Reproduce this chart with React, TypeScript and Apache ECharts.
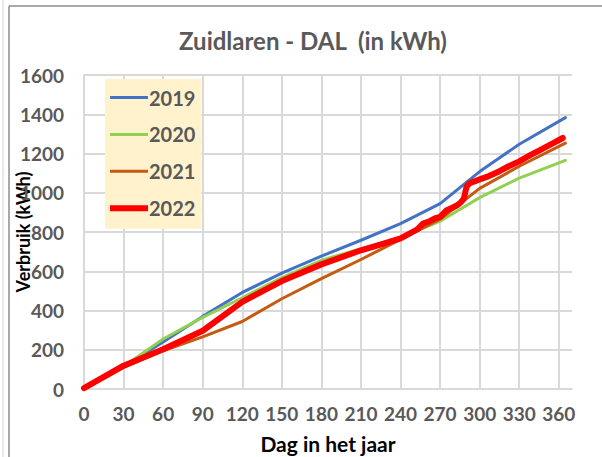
import React, { useEffect, useRef } from "react";
import * as echarts from "echarts";

const titleText = "Zuidlaren - DAL  (in kWh)";
const xAxisName = "Dag in het jaar";
const yAxisName = "Verbruik (kWh)";

const data2019: [number, number][] = [
  [0, 0], [30, 115], [60, 240], [90, 370], [120, 492], [150, 590], [180, 677],
  [210, 758], [240, 843], [270, 945], [300, 1108], [330, 1247], [365, 1383],
];
const data2020: [number, number][] = [
  [0, 0], [30, 115], [60, 255], [90, 365], [120, 465], [150, 568], [180, 656],
  [210, 715], [240, 770], [270, 855], [300, 975], [330, 1075], [365, 1165],
];
const data2021: [number, number][] = [
  [0, 0], [30, 110], [60, 195], [90, 266], [120, 344], [150, 460], [180, 562],
  [210, 660], [240, 762], [270, 865], [300, 1022], [330, 1135], [365, 1253],
];
const data2022: [number, number][] = [
  [0, 5], [30, 119], [60, 203], [90, 297], [120, 444], [150, 550], [180, 635],
  [210, 707], [224, 735], [240, 767], [245, 785], [249, 800], [253, 815],
  [257, 843], [262, 855], [266, 869], [270, 877], [275, 911], [278, 920],
  [283, 936], [286, 953], [288, 970], [290, 1030], [292, 1047], [300, 1068],
  [307, 1085], [315, 1110], [322, 1135], [330, 1160], [338, 1190], [345, 1215],
  [355, 1250], [363, 1279],
];

const seriesNames = ["2019", "2020", "2021", "2022"];
const seriesColors = ["#4472c4", "#92d050", "#c55a11", "#ff0000"];
const seriesWidths = [3, 3, 3, 6];
const seriesData = [data2019, data2020, data2021, data2022];

const FONT = "Lato";

// legend icon: a horizontal bar of given thickness, padded with tiny dots to keep a 38x14 box
const legendIcon = (t: number) => {
  const y0 = 7 - t / 2;
  const y1 = 7 + t / 2;
  return `path://M0,0H0.01V0.01H0Z M0,${y0}H38V${y1}H0Z M37.99,13.99H38V14H37.99Z`;
};

export default function App() {
  const ref = useRef<HTMLDivElement>(null);
  useEffect(() => {
    if (!ref.current) return;
    const chart = echarts.init(ref.current, null, { renderer: "svg" });
    const gridColors = [...Array(13).fill("#d9d9d9"), "transparent"];
    chart.setOption({
      animation: false,
      backgroundColor: "#ffffff",
      title: {
        text: titleText,
        left: 308,
        top: 23,
        textAlign: "center",
        textStyle: { color: "#595959", fontFamily: FONT, fontSize: 24, fontWeight: "bold" },
      },
      legend: {
        orient: "vertical",
        left: 105,
        top: 79,
        backgroundColor: "#fff2cc",
        padding: [8.5, 6, 10.5, 5],
        itemWidth: 38,
        itemHeight: 14,
        itemGap: 16.9,
        data: seriesNames.map((n, i) => ({ name: n, icon: legendIcon(seriesWidths[i]) })),
        textStyle: {
          color: "#595959",
          fontFamily: FONT,
          fontSize: 20,
          fontWeight: "bold",
          padding: [0, 0, 0, -4],
        },
      },
      grid: { left: 84, top: 75, right: 30, bottom: 68, containLabel: false, outerBoundsMode: "none" },
      xAxis: {
        type: "value",
        min: 0,
        max: 370,
        interval: 30,
        name: xAxisName,
        nameLocation: "middle",
        nameGap: 44,
        nameMoveOverlap: false,
        nameTextStyle: { color: "#000000", fontFamily: FONT, fontSize: 21, fontWeight: "bold" },
        axisLine: { show: true, lineStyle: { color: "#d9d9d9", width: 2 } },
        axisTick: { show: false },
        axisLabel: {
          color: "#595959",
          fontFamily: FONT,
          fontSize: 19,
          fontWeight: "bold",
          margin: 15,
          formatter: (v: number) => (v % 30 === 0 ? String(v) : ""),
        },
        splitLine: { show: true, lineStyle: { color: gridColors, width: 2 } },
      },
      yAxis: {
        type: "value",
        min: 0,
        max: 1600,
        interval: 200,
        name: yAxisName,
        nameLocation: "middle",
        nameGap: 52,
        nameMoveOverlap: false,
        nameTextStyle: { color: "#000000", fontFamily: FONT, fontSize: 18, fontWeight: "bold" },
        axisLine: { show: true, lineStyle: { color: "#d9d9d9", width: 2 } },
        axisTick: { show: false },
        axisLabel: {
          color: "#595959",
          fontFamily: FONT,
          fontSize: 19,
          fontWeight: "bold",
          margin: 20,
          formatter: (v: number) => String(v),
        },
        splitLine: { show: true, lineStyle: { color: "#d9d9d9", width: 2 } },
      },
      graphic: [
        { type: "line", shape: { x1: 3, y1: 0, x2: 3, y2: 457 }, style: { stroke: "#d0d0d0", lineWidth: 1 } },
        { type: "line", shape: { x1: 9, y1: 6, x2: 9, y2: 457 }, style: { stroke: "#8c8c8c", lineWidth: 1.5 } },
        { type: "line", shape: { x1: 9, y1: 6, x2: 602, y2: 6 }, style: { stroke: "#8c8c8c", lineWidth: 1.5 } },
      ],
      series: seriesNames.map((name, i) => ({
        name,
        type: "line",
        data: seriesData[i],
        showSymbol: false,
        symbol: "none",
        z: 2 + i,
        lineStyle: { color: seriesColors[i], width: seriesWidths[i], cap: "round", join: "round" },
        itemStyle: { color: seriesColors[i] },
      })),
    });
    return () => chart.dispose();
  }, []);
  return <div ref={ref} style={{ position: "fixed", left: 0, top: 0, width: 602, height: 457 }} />;
}
